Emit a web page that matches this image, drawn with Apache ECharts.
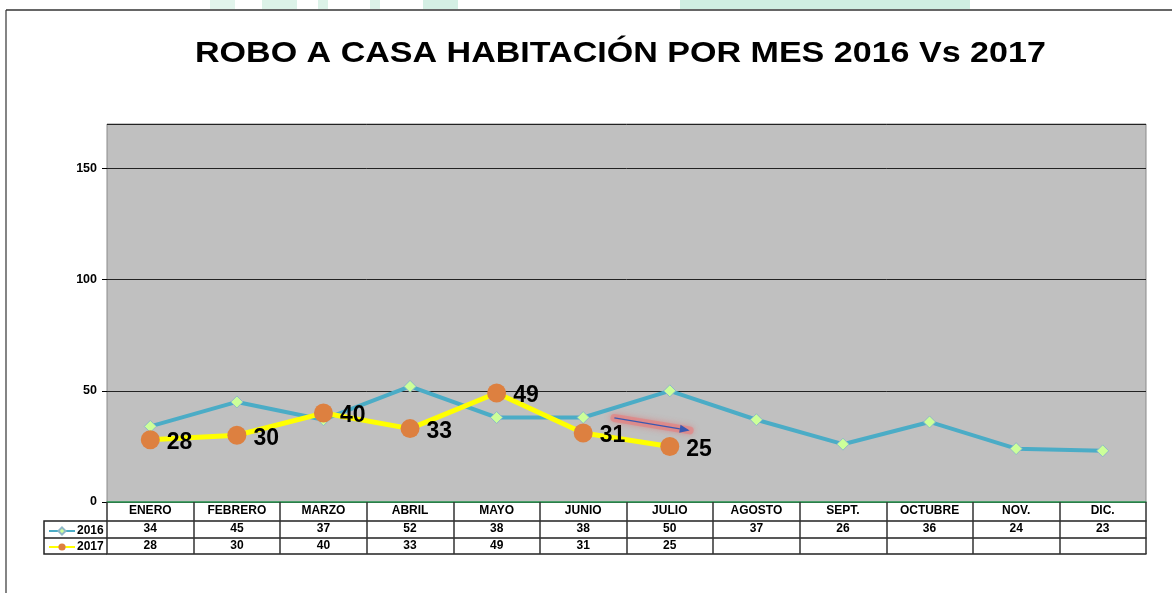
<!DOCTYPE html>
<html>
<head>
<meta charset="utf-8">
<script src="https://cdn.jsdelivr.net/npm/echarts@6/dist/echarts.min.js"></script>
<style>
html, body { margin: 0; padding: 0; background: #fff; }
#chart { width: 1172px; height: 593px; }
</style>
</head>
<body>
<div id="chart"></div>
<script>
// robo a casa habitacion, 2016 vs 2017
const titulo = 'ROBO A CASA HABITACIÓN POR MES 2016 Vs 2017'
const meses = ['ENERO', 'FEBRERO', 'MARZO', 'ABRIL', 'MAYO', 'JUNIO', 'JULIO', 'AGOSTO', 'SEPT.', 'OCTUBRE', 'NOV.', 'DIC.']
const datos2016 = [34, 45, 37, 52, 38, 38, 50, 37, 26, 36, 24, 23]
const datos2017 = [28, 30, 40, 33, 49, 31, 25]
const yTicks = [0, 50, 100, 150]

const chartDom = document.getElementById('chart')
const chart = echarts.init(chartDom)

// tabla de abajo: cada fila es un eje x desplazado
const filaEje = (data, offset, tickLen, margin, extra) => Object.assign({
    type: 'category',
    gridIndex: 0,
    position: 'bottom',
    offset: offset,
    data: data,
    boundaryGap: true,
    axisLine: { show: true, lineStyle: { color: '#222', width: 1.5 } },
    axisTick: { show: tickLen > 0, length: tickLen, interval: 0, lineStyle: { color: '#333', width: 1.5 } },
    axisLabel: { show: true, interval: 0, margin: margin, color: '#000', fontFamily: 'Liberation Sans', fontWeight: 'bold', fontSize: 12 },
    splitLine: { show: false }
}, extra || {})

const fila2017 = meses.map((m, i) => datos2017[i] !== undefined ? String(datos2017[i]) : '')

const option = {
    backgroundColor: '#fff',
    animation: false,
    legend: {
        orient: 'vertical',
        left: 43,
        top: 520,
        itemGap: 4,
        itemWidth: 26,
        itemHeight: 9,
        textStyle: { fontFamily: 'Liberation Sans', fontWeight: 'bold', fontSize: 12, color: '#000', padding: [0, 0, 0, -3] },
        data: ['2016', '2017']
    },
    grid: {
        left: 107, right: 26, top: 124, bottom: 91,
        show: true,
        backgroundColor: '#c0c0c0',
        borderColor: '#8a8a8a',
        borderWidth: 1
    },
    xAxis: [
        filaEje(meses, 0, 19, 3, { axisLine: { show: true, lineStyle: { color: '#2e9a55', width: 1.5 } } }),
        filaEje(datos2016.map(String), 19, 17, 2),
        filaEje(fila2017, 36, 16, 2),
        filaEje(meses, 52, 0, 0, { axisLabel: { show: false } })
    ],
    yAxis: {
        type: 'value',
        min: 0,
        max: 170,
        interval: 50,
        axisLine: { show: false },
        axisTick: { show: true, length: 5, lineStyle: { color: '#000' } },
        axisLabel: {
            showMaxLabel: false,
            margin: 10,
            color: '#000', fontFamily: 'Liberation Sans', fontWeight: 'bold', fontSize: 12.5,
            formatter: v => yTicks.includes(v) ? String(v) : ''
        },
        splitLine: { show: true, lineStyle: { color: '#222', width: 1 } }
    },
    series: [
        {
            name: '2016',
            type: 'line',
            data: datos2016,
            symbol: 'diamond',
            symbolSize: 12,
            color: '#4bacc6',
            lineStyle: { color: '#4bacc6', width: 4 },
            itemStyle: { color: '#ccff99', borderColor: '#8fb8c8', borderWidth: 1 },
            z: 2
        },
        {
            name: '2017',
            type: 'line',
            data: datos2017,
            symbol: 'circle',
            symbolSize: 19,
            color: '#ffff00',
            lineStyle: { color: '#ffff00', width: 5 },
            itemStyle: { color: '#dd8040' },
            label: {
                show: true,
                position: 'right',
                distance: 7,
                offset: [0, 3],
                color: '#000',
                fontFamily: 'Liberation Sans',
                fontWeight: 'bold',
                fontSize: 23
            },
            z: 3
        }
    ]
}
chart.setOption(option)

// flecha de tendencia (junio -> julio); el eje de categorias redondea, asi que interpolo a mano
const xEn = (f) => {
    const i = Math.floor(f)
    const a = chart.convertToPixel({ xAxisIndex: 0 }, i)
    const b = chart.convertToPixel({ xAxisIndex: 0 }, i + 1)
    return a + (f - i) * (b - a)
}
const yEn = (v) => chart.convertToPixel({ yAxisIndex: 0 }, v)
const p1 = [xEn(5.36), yEn(37.8)]
const p2 = [xEn(6.23), yEn(32.2)]
const ang = Math.atan2(p2[1] - p1[1], p2[0] - p1[0])
const hl = 10, hw = 4
const tip = p2
const base = [p2[0] - hl * Math.cos(ang), p2[1] - hl * Math.sin(ang)]
const head = [
    tip,
    [base[0] + hw * Math.sin(ang), base[1] - hw * Math.cos(ang)],
    [base[0] - hw * Math.sin(ang), base[1] + hw * Math.cos(ang)]
]

chart.setOption({
    graphic: [
        // titulo: la fuente original es mas ancha, la estiro un poco
        {
            type: 'text', x: 195, y: 54, scaleX: 1.135, silent: true,
            style: { text: titulo, fill: '#000', font: 'bold 30px "Liberation Sans"', align: 'left', verticalAlign: 'middle' }
        },
        // franja verde tenue de arriba
        { type: 'rect', shape: { x: 680, y: 0, width: 290, height: 9 }, style: { fill: '#d0eee2' }, silent: true },
        { type: 'rect', shape: { x: 210, y: 0, width: 25, height: 9 }, style: { fill: '#e2f4ec' }, silent: true },
        { type: 'rect', shape: { x: 262, y: 0, width: 35, height: 9 }, style: { fill: '#dcf2e8' }, silent: true },
        { type: 'rect', shape: { x: 318, y: 0, width: 10, height: 9 }, style: { fill: '#dcf2e8' }, silent: true },
        { type: 'rect', shape: { x: 370, y: 0, width: 10, height: 9 }, style: { fill: '#dcf2e8' }, silent: true },
        { type: 'rect', shape: { x: 423, y: 0, width: 35, height: 9 }, style: { fill: '#d4efe4' }, silent: true },
        // marco
        { type: 'line', shape: { x1: 6, y1: 10, x2: 1172, y2: 10 }, style: { stroke: '#333', lineWidth: 1.5 }, silent: true },
        { type: 'line', shape: { x1: 6, y1: 10, x2: 6, y2: 593 }, style: { stroke: '#333', lineWidth: 1.2 }, silent: true },
        // caja de leyenda
        { type: 'polyline', shape: { points: [[107, 521], [44, 521], [44, 554], [107, 554]] }, style: { stroke: '#222', lineWidth: 1.5, fill: null }, silent: true },
        { type: 'line', shape: { x1: 44, y1: 538, x2: 107, y2: 538 }, style: { stroke: '#222', lineWidth: 1.5 }, silent: true },
        // flecha
        { type: 'line', shape: { x1: p1[0], y1: p1[1], x2: p2[0], y2: p2[1] }, style: { stroke: 'rgba(235,120,120,0.55)', lineWidth: 8, lineCap: 'round', shadowBlur: 6, shadowColor: 'rgba(230,90,90,0.8)' }, silent: true, z: 10 },
        { type: 'line', shape: { x1: p1[0], y1: p1[1], x2: base[0], y2: base[1] }, style: { stroke: '#3a58b0', lineWidth: 1.3 }, silent: true, z: 11 },
        { type: 'polygon', shape: { points: head }, style: { fill: '#3a58b0' }, silent: true, z: 11 }
    ]
})

window.addEventListener('resize', () => chart.resize())
</script>
</body>
</html>
